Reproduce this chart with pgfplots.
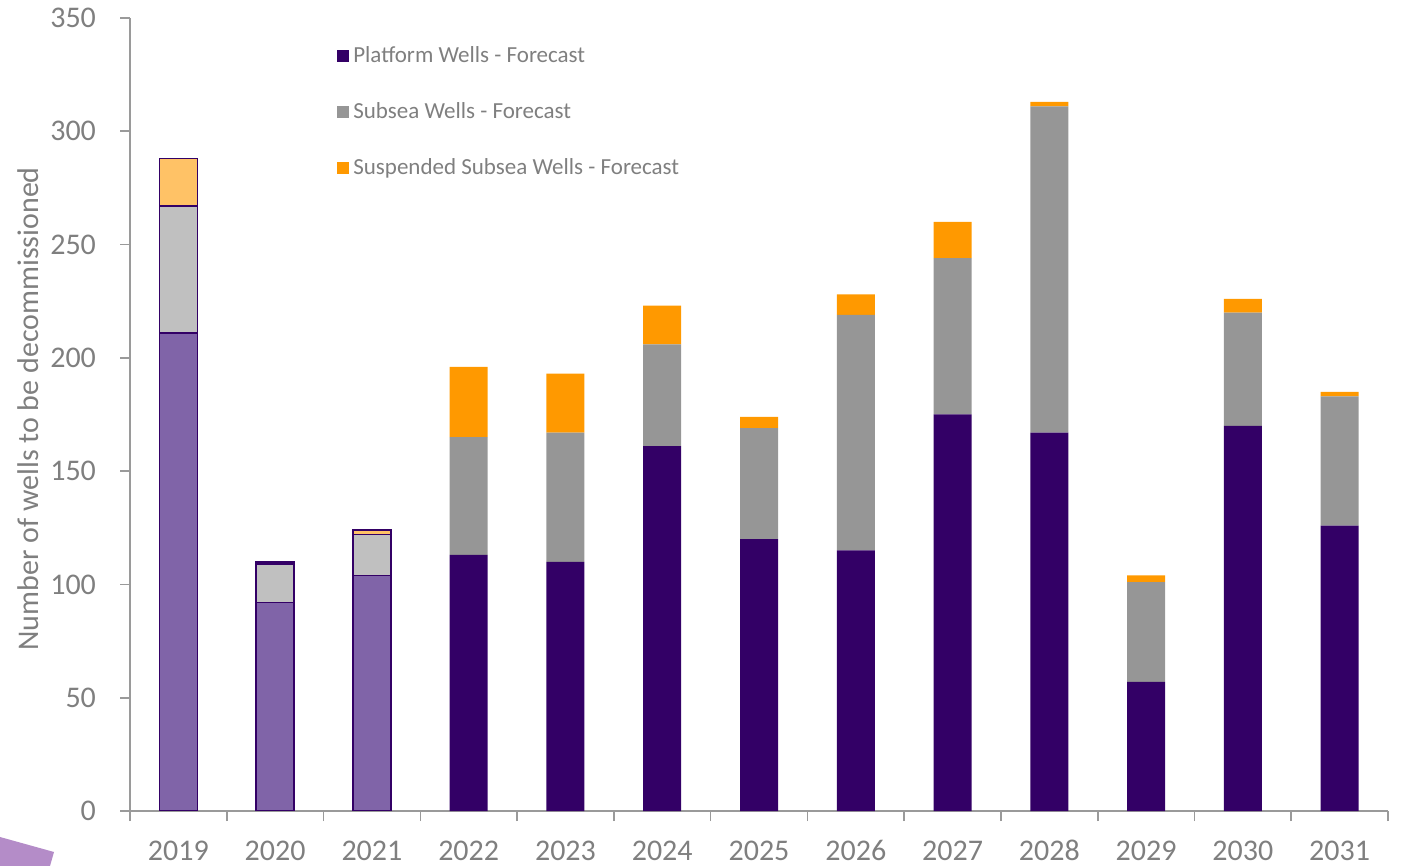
\documentclass[border=0pt]{standalone}
\usepackage{fontspec}
\setmainfont{Carlito}
\usepackage{pgfplots}
\pgfplotsset{compat=1.18}
\definecolor{plat}{HTML}{330066}
\definecolor{platL}{HTML}{8064A8}
\definecolor{sub}{HTML}{969696}
\definecolor{subL}{HTML}{C0C0C0}
\definecolor{susp}{HTML}{FF9900}
\definecolor{suspL}{HTML}{FFC266}
\definecolor{txt}{HTML}{7F7F7F}
\definecolor{axisgray}{HTML}{9A9A9A}
\definecolor{blob}{HTML}{B48CC8}
\pgfplotsset{common/.style={scale only axis, width=629pt, height=396.5pt,
  xmin=-0.5, xmax=12.5, ymin=0, ymax=350, ybar stacked, bar width=19pt,
  at={(65pt,27.5pt)}, anchor=south west},
  sqlegend/.style={legend image code/.code={\fill[##1] (0pt,-3pt) rectangle (6pt,3pt);}}}
\begin{document}
\begin{tikzpicture}
\useasboundingbox (0,0) rectangle (703pt,433pt);
\fill[blob] (0pt,14.5pt) -- (27pt,7pt) -- (25pt,0pt) -- (0pt,0pt) -- cycle;
\begin{axis}[common,
  axis x line=bottom, axis y line=left,
  axis line style={axisgray, line width=0.8pt, -},
  tick style={axisgray, line width=0.8pt},
  tick align=outside, major tick length=5pt, minor tick length=5pt,
  xtick={0,...,12},
  xticklabels={2019,2020,2021,2022,2023,2024,2025,2026,2027,2028,2029,2030,2031},
  minor xtick={-0.5,0.5,...,12.5},
  x tick style={draw=none},
  minor x tick style={draw=axisgray, line width=0.8pt},
  ytick={0,50,...,350},
  /pgf/number format/assume math mode=true,
  ticklabel style={text=txt, font=\fontsize{15}{18}\selectfont},
  xticklabel style={anchor=base, yshift=-19.5pt},
  yticklabel style={xshift=-8.5pt},
  ylabel={Number of wells to be decommissioned},
  ylabel style={at={(axis description cs:-0.0811,0.507)}, anchor=center, text=txt, font=\fontsize{15}{18}\selectfont},
  legend style={at={(rel axis cs:0.1597,0.974)}, anchor=north west, draw=none, fill=none,
    font=\fontsize{11.5}{13.5}\selectfont, text=txt, row sep=14.5pt},
  legend cell align=left,
]
\addplot[fill=plat, draw=none, sqlegend]
  coordinates {(3,113)(4,110)(5,161)(6,120)(7,115)(8,175)(9,167)(10,57)(11,170)(12,126)};
\addlegendentry{Platform Wells - Forecast}
\addplot[fill=sub, draw=none, sqlegend]
  coordinates {(3,52)(4,57)(5,45)(6,49)(7,104)(8,69)(9,144)(10,44)(11,50)(12,57)};
\addlegendentry{Subsea Wells - Forecast}
\addplot[fill=susp, draw=none, sqlegend]
  coordinates {(3,31)(4,26)(5,17)(6,5)(7,9)(8,16)(9,2)(10,3)(11,6)(12,2)};
\addlegendentry{Suspended Subsea Wells - Forecast}
\end{axis}
\begin{axis}[common, hide axis]
\addplot[fill=platL, draw=plat, line width=0.8pt] coordinates {(0,211)(1,92)(2,104)};
\addplot[fill=subL, draw=plat, line width=0.8pt] coordinates {(0,56)(1,17)(2,18)};
\addplot[fill=suspL, draw=plat, line width=0.8pt] coordinates {(0,21)(1,1)(2,2)};
\end{axis}
\end{tikzpicture}
\end{document}
